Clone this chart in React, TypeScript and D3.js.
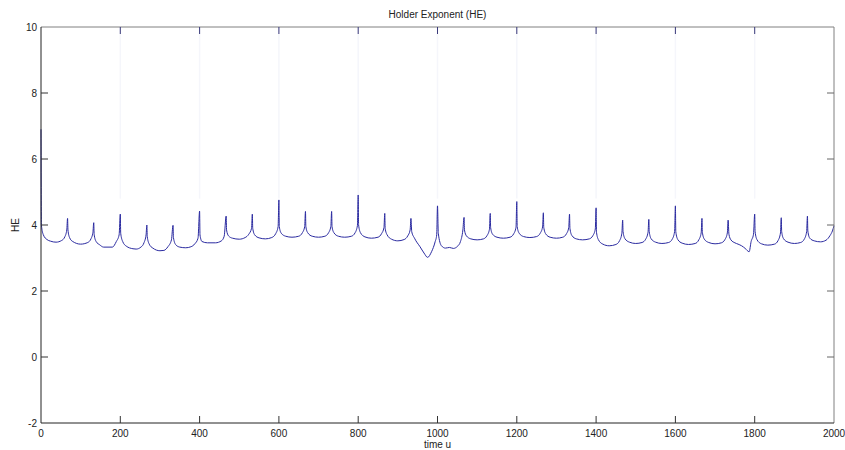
import React, { useEffect, useRef } from 'react';
import * as d3 from 'd3';

// Holder exponent trace, [time u, HE] (one row per spike interval)
const heSeries: [number, number][] = [
  [0, 6.9], [1, 4.0], [6, 3.7], [15, 3.56], [24, 3.51], [38, 3.48], [52, 3.53], [60, 3.64], [65, 3.85], [67, 4.2],
  [68, 3.85], [72, 3.62], [80, 3.5], [100, 3.42], [118, 3.47], [126, 3.58], [131, 3.78], [133, 4.07],
  [134, 3.72], [139, 3.5], [148, 3.4], [158, 3.33], [180, 3.33], [190, 3.5], [197, 3.7], [200, 4.33],
  [201, 3.75], [206, 3.5], [215, 3.36], [232, 3.28], [240, 3.27], [252, 3.33], [260, 3.47], [265, 3.7], [267, 4.0],
  [268, 3.65], [273, 3.42], [282, 3.3], [300, 3.22], [310, 3.23], [320, 3.34], [329, 3.55], [333, 3.99],
  [334, 3.62], [340, 3.4], [350, 3.33], [365, 3.31], [378, 3.34], [388, 3.43], [396, 3.6], [400, 4.42],
  [401, 3.7], [406, 3.5], [420, 3.46], [440, 3.46], [455, 3.52], [462, 3.66], [467, 4.27],
  [468, 3.85], [473, 3.67], [483, 3.6], [500, 3.57], [515, 3.62], [524, 3.72], [531, 3.9], [533, 4.33],
  [534, 3.9], [539, 3.7], [550, 3.61], [566, 3.58], [582, 3.62], [592, 3.74], [598, 3.95], [600, 4.76],
  [601, 3.95], [606, 3.75], [617, 3.66], [633, 3.63], [650, 3.66], [659, 3.76], [665, 3.95], [667, 4.41],
  [668, 3.95], [673, 3.76], [684, 3.66], [700, 3.63], [716, 3.66], [725, 3.76], [731, 3.95], [733, 4.41],
  [734, 3.95], [739, 3.76], [750, 3.66], [766, 3.63], [783, 3.66], [792, 3.76], [798, 3.98], [800, 4.91],
  [801, 4.0], [806, 3.76], [817, 3.64], [833, 3.6], [850, 3.63], [859, 3.74], [865, 3.92], [867, 4.35],
  [868, 3.9], [873, 3.7], [884, 3.57], [900, 3.52], [916, 3.56], [925, 3.67], [931, 3.85], [933, 4.2],
  [935, 3.8], [942, 3.6], [956, 3.34], [966, 3.15], [975, 3.02], [985, 3.19], [994, 3.49], [998, 3.7], [1000, 4.58],
  [1002, 3.75], [1010, 3.37], [1020, 3.3], [1030, 3.32], [1040, 3.29], [1050, 3.35], [1058, 3.5], [1064, 3.85], [1067, 4.23],
  [1068, 3.85], [1073, 3.67], [1084, 3.58], [1100, 3.55], [1116, 3.58], [1125, 3.68], [1131, 3.87], [1133, 4.35],
  [1134, 3.92], [1139, 3.72], [1150, 3.63], [1166, 3.6], [1183, 3.63], [1192, 3.73], [1198, 3.93], [1200, 4.71],
  [1201, 3.95], [1206, 3.75], [1217, 3.65], [1233, 3.62], [1250, 3.65], [1259, 3.75], [1265, 3.94], [1267, 4.37],
  [1268, 3.93], [1273, 3.73], [1284, 3.63], [1300, 3.6], [1316, 3.63], [1325, 3.73], [1331, 3.92], [1333, 4.33],
  [1334, 3.9], [1339, 3.68], [1350, 3.58], [1366, 3.55], [1383, 3.58], [1392, 3.68], [1398, 3.88], [1400, 4.52],
  [1401, 3.78], [1406, 3.55], [1417, 3.42], [1433, 3.37], [1450, 3.41], [1459, 3.52], [1465, 3.75], [1467, 4.15],
  [1468, 3.8], [1473, 3.58], [1484, 3.48], [1500, 3.44], [1516, 3.47], [1525, 3.57], [1531, 3.78], [1533, 4.17],
  [1534, 3.8], [1539, 3.58], [1550, 3.48], [1566, 3.44], [1583, 3.47], [1592, 3.57], [1598, 3.8], [1600, 4.58],
  [1601, 3.8], [1606, 3.56], [1617, 3.45], [1633, 3.41], [1650, 3.44], [1659, 3.55], [1665, 3.76], [1667, 4.2],
  [1668, 3.78], [1673, 3.57], [1684, 3.47], [1700, 3.43], [1716, 3.46], [1725, 3.56], [1731, 3.76], [1733, 4.15],
  [1735, 3.72], [1740, 3.55], [1750, 3.46], [1758, 3.42], [1767, 3.37], [1776, 3.29], [1786, 3.19], [1791, 3.5], [1797, 3.72], [1800, 4.33],
  [1801, 3.8], [1806, 3.55], [1817, 3.43], [1833, 3.39], [1850, 3.42], [1859, 3.53], [1865, 3.76], [1867, 4.22],
  [1868, 3.8], [1873, 3.58], [1884, 3.48], [1900, 3.44], [1916, 3.47], [1925, 3.57], [1931, 3.8], [1933, 4.27],
  [1934, 3.82], [1939, 3.6], [1950, 3.52], [1966, 3.49], [1980, 3.54], [1990, 3.68], [1996, 3.82], [2000, 3.98],
];

// very faint spikes running up off the top of the axes
const faintSpikeT = [200, 400, 600, 800, 1000, 1200, 1400, 1600, 1800];

const xTicks = [0, 200, 400, 600, 800, 1000, 1200, 1400, 1600, 1800, 2000];
const yTicks = [-2, 0, 2, 4, 6, 8, 10];

const W = 845;
const H = 450;

export default function App() {
  const svgRef = useRef<SVGSVGElement>(null);

  useEffect(() => {
    const svg = d3.select(svgRef.current);
    svg.selectAll('*').remove();

    const margin = { top: 27, right: 11, bottom: 27, left: 41 };
    const x = d3.scaleLinear().domain([0, 2000]).range([margin.left, W - margin.right]);
    const y = d3.scaleLinear().domain([-2, 10]).range([H - margin.bottom, margin.top]);
    const font = '"Liberation Sans", Arial, sans-serif';
    const tickLen = 7;

    svg.append('rect').attr('width', W).attr('height', H).attr('fill', '#fff');

    // faint spikes
    svg.append('g')
      .selectAll('line')
      .data(faintSpikeT)
      .enter()
      .append('line')
      .attr('x1', d => x(d))
      .attr('x2', d => x(d))
      .attr('y1', y(4.8))
      .attr('y2', y(10))
      .attr('stroke', '#f5f6fb')
      .attr('stroke-width', 1.5);

    // main trace
    const line = d3.line<[number, number]>()
      .x(d => x(d[0]))
      .y(d => y(d[1]))
      .curve(d3.curveMonotoneX);

    svg.append('path')
      .datum(heSeries)
      .attr('d', line)
      .attr('fill', 'none')
      .attr('stroke', '#2a2aa0')
      .attr('stroke-width', 1);

    // box: left/bottom dark, top/right gray
    const x0 = x(0), x1 = x(2000), y0 = y(-2), y1 = y(10);
    svg.append('line').attr('x1', x0).attr('x2', x1).attr('y1', y1).attr('y2', y1).attr('stroke', '#808080');
    svg.append('line').attr('x1', x1).attr('x2', x1).attr('y1', y1).attr('y2', y0).attr('stroke', '#808080');
    svg.append('line').attr('x1', x0).attr('x2', x1).attr('y1', y0).attr('y2', y0).attr('stroke', '#222');
    svg.append('line').attr('x1', x0).attr('x2', x0).attr('y1', y1).attr('y2', y0).attr('stroke', '#222');

    // inward ticks on all four sides
    const xt = svg.append('g');
    xTicks.slice(1, -1).forEach(t => {
      xt.append('line').attr('x1', x(t)).attr('x2', x(t)).attr('y1', y0).attr('y2', y0 - tickLen).attr('stroke', '#333');
      xt.append('line').attr('x1', x(t)).attr('x2', x(t)).attr('y1', y1).attr('y2', y1 + tickLen).attr('stroke', '#3a3a7a');
    });
    const yt = svg.append('g');
    yTicks.slice(1, -1).forEach(t => {
      yt.append('line').attr('x1', x0).attr('x2', x0 + tickLen).attr('y1', y(t)).attr('y2', y(t)).attr('stroke', '#333');
      yt.append('line').attr('x1', x1).attr('x2', x1 - tickLen).attr('y1', y(t)).attr('y2', y(t)).attr('stroke', '#666');
    });

    // tick labels
    svg.append('g')
      .selectAll('text')
      .data(xTicks)
      .enter()
      .append('text')
      .attr('x', d => x(d))
      .attr('y', y0 + 14)
      .attr('text-anchor', 'middle')
      .style('font-family', font)
      .style('font-size', '10px')
      .style('fill', '#222')
      .text(d => d);

    svg.append('g')
      .selectAll('text')
      .data(yTicks)
      .enter()
      .append('text')
      .attr('x', x0 - 4)
      .attr('y', d => y(d) + 3.5)
      .attr('text-anchor', 'end')
      .style('font-family', font)
      .style('font-size', '10px')
      .style('fill', '#222')
      .text(d => d);

    // title and axis labels
    svg.append('text')
      .attr('x', (x0 + x1) / 2)
      .attr('y', 18)
      .attr('text-anchor', 'middle')
      .style('font-family', font)
      .style('font-size', '10px')
      .style('fill', '#222')
      .text('Holder Exponent (HE)');

    svg.append('text')
      .attr('x', (x0 + x1) / 2)
      .attr('y', 448)
      .attr('text-anchor', 'middle')
      .style('font-family', font)
      .style('font-size', '10px')
      .style('fill', '#222')
      .text('time u');

    svg.append('text')
      .attr('transform', `translate(19,${(y0 + y1) / 2}) rotate(-90)`)
      .attr('text-anchor', 'middle')
      .style('font-family', font)
      .style('font-size', '10px')
      .style('fill', '#222')
      .text('HE');
  }, []);

  return (
    <svg
      ref={svgRef}
      width={W}
      height={H}
      style={{ position: 'absolute', left: 0, top: 0, display: 'block' }}
    />
  );
}
